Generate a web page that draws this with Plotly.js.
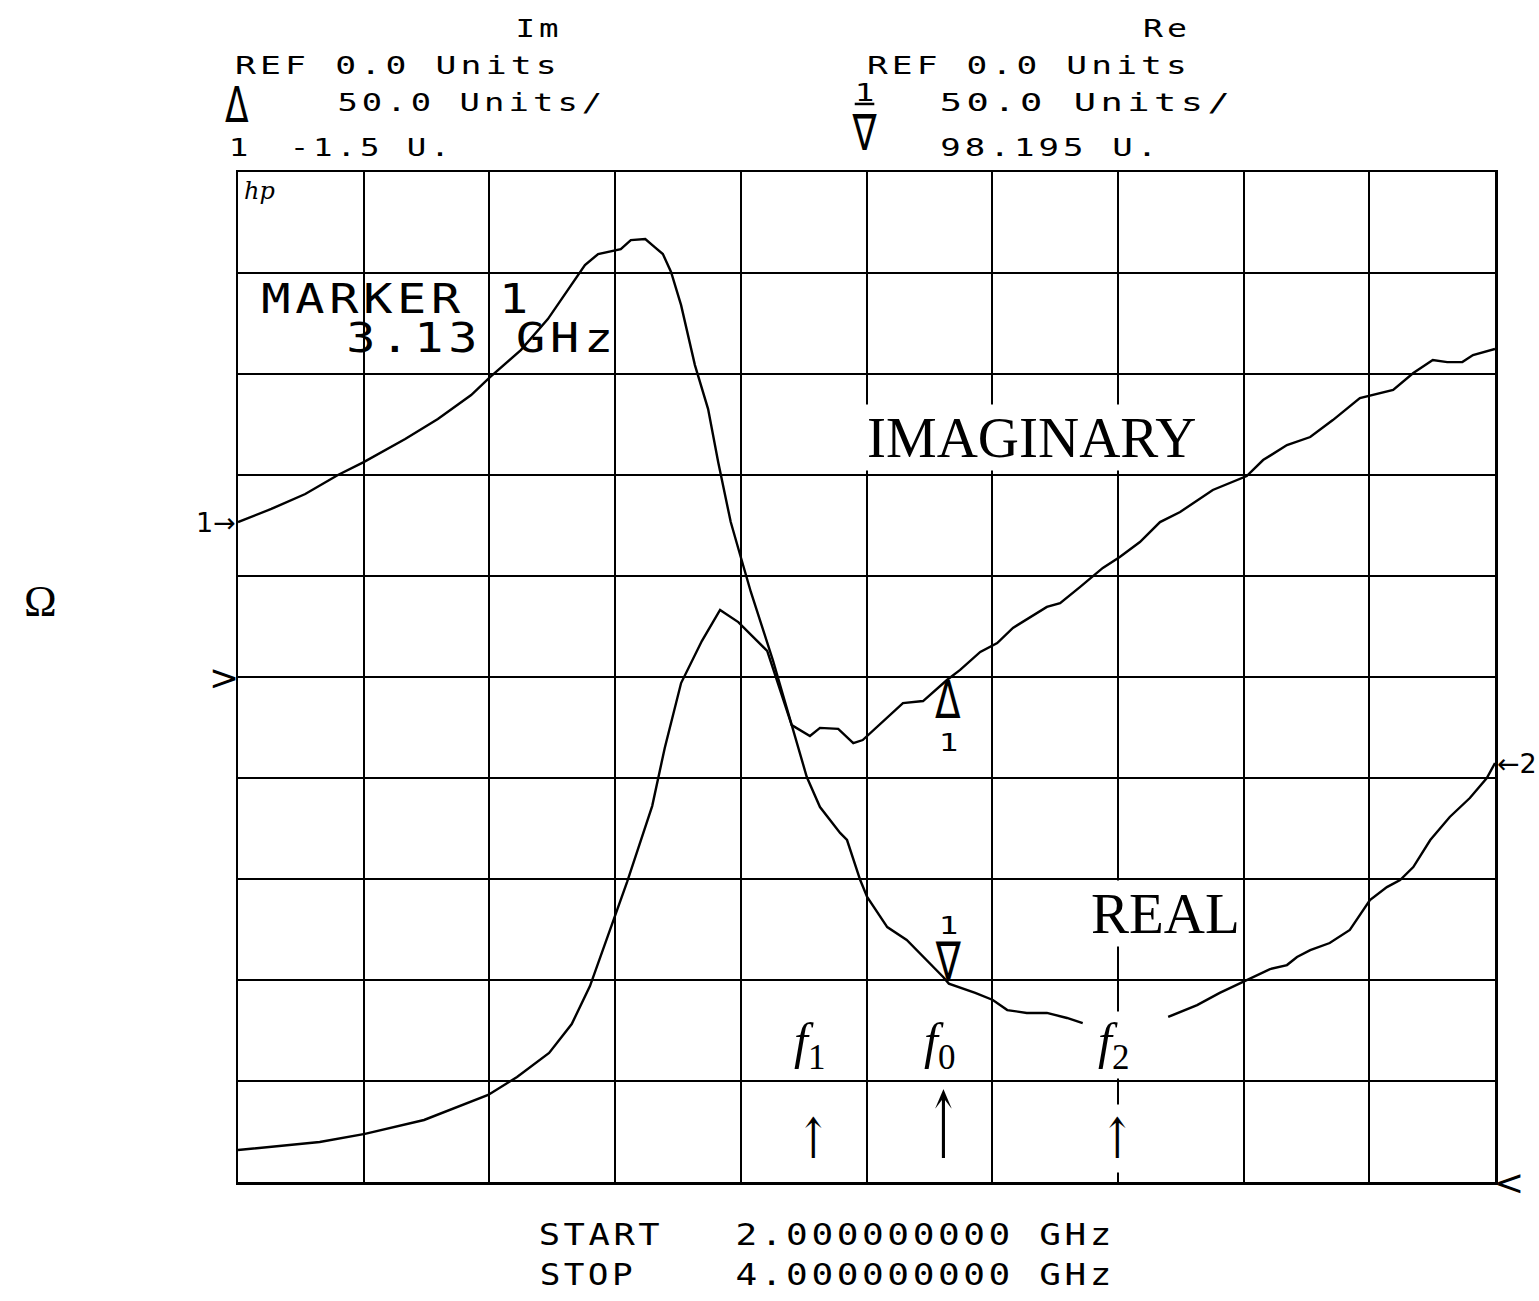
<!DOCTYPE html>
<html>
<head>
<meta charset="utf-8">
<script src="https://cdn.plot.ly/plotly-3.0.1.min.js"></script>
<style>
  html, body { margin: 0; padding: 0; background: #ffffff; }
  #chart { width: 1539px; height: 1301px; }
</style>
</head>
<body>
<div id="chart"></div>
<script>
// ---------------- DATA ----------------
// Sweep (GHz)
const startFreq = 2.0;
const stopFreq = 4.0;
// Display scale
const unitsPerDiv = 50;
// Imaginary part of impedance (Ohm) vs frequency (GHz)
const freqIm = [2.000, 2.130, 2.202, 2.296, 2.398, 2.444, 2.495, 2.531, 2.560, 2.597,
                2.619, 2.659, 2.679, 2.705, 2.738, 2.767, 2.796, 2.842, 2.881, 2.910,
                2.926, 2.955, 2.979, 2.994, 3.017, 3.058, 3.090, 3.128, 3.149, 3.181,
                3.208, 3.233, 3.287, 3.308, 3.340, 3.376, 3.403, 3.435, 3.467, 3.499,
                3.551, 3.605, 3.631, 3.669, 3.706, 3.742, 3.785, 3.806, 3.838, 3.870,
                3.901, 3.924, 3.948, 3.965, 4.000];
const imValues = [-234.2, -230.2, -226.2, -219.3, -206.9, -198.0, -186.1, -171.8, -153.0, -120.8,
                  -101.5, -63.9, -35.1, -3.0, 17.8, 33.2, 27.2, 12.9, -23.8, -29.2,
                  -25.2, -25.7, -32.7, -31.2, -24.8, -12.9, -11.9, -1.5, 3.5, 12.4,
                  16.8, 24.3, 34.7, 36.6, 44.6, 54.0, 59.4, 66.8, 76.7, 81.7,
                  92.6, 99.5, 107.4, 114.8, 118.8, 127.2, 138.1, 139.6, 142.1, 150.5,
                  156.9, 155.9, 155.9, 159.4, 162.4];
// Real part of impedance (Ohm) vs frequency (GHz); null = trace hidden under the f2 label
const freqRe = [2.000, 2.053, 2.107, 2.159, 2.200, 2.266, 2.318, 2.371, 2.401, 2.450,
                2.493, 2.530, 2.552, 2.573, 2.600, 2.609, 2.625, 2.648, 2.663, 2.676,
                2.689, 2.705, 2.727, 2.748, 2.764, 2.784, 2.799, 2.816, 2.851, 2.881,
                2.905, 2.926, 2.958, 2.969, 2.990, 3.001, 3.033, 3.064, 3.096, 3.122,
                3.131, 3.173, 3.201, 3.224, 3.255, 3.287, 3.319, 3.344, 3.410, 3.480,
                3.526, 3.562, 3.605, 3.642, 3.669, 3.685, 3.706, 3.737, 3.769, 3.801,
                3.828, 3.849, 3.870, 3.897, 3.928, 3.960, 3.987, 4.000];
const reValues = [326.7, 333.2, 340.6, 350.0, 356.4, 367.8, 377.7, 389.6, 398.5, 411.8,
                  427.2, 444.0, 453.9, 459.4, 461.3, 461.8, 466.3, 466.8, 462.8, 459.4,
                  450.5, 434.1, 404.4, 382.6, 356.4, 326.7, 310.4, 292.1, 258.4, 226.2,
                  200.5, 185.6, 172.8, 169.3, 149.5, 141.1, 126.2, 119.8, 109.9, 101.5,
                  98.2, 93.6, 90.1, 85.1, 83.7, 83.7, 81.2, 78.7, null, 81.7,
                  87.6, 93.6, 100.0, 105.4, 107.4, 111.4, 114.8, 118.3, 124.8, 139.6,
                  146.0, 149.5, 155.9, 169.3, 180.7, 190.1, 200.0, 207.4];
// Marker 1
const markerFreq = 3.13;
const markerIm = -1.5;
const markerRe = 98.195;
// Frequency labels (f with subscript) and their frequencies (GHz)
const fSubscripts = ['1', '0', '2'];
const fFreqs = [2.915, 3.122, 3.400];
// Header texts
const imHeader = ['Im', 'REF 0.0 Units', '50.0 Units/', '-1.5 U.'];
const reHeader = ['Re', 'REF 0.0 Units', '50.0 Units/', '98.195 U.'];
const sweepText = ['START', '2.000000000 GHz', 'STOP', '4.000000000 GHz'];
const markerText = ['MARKER 1', '3.13 GHz'];
const curveNames = ['IMAGINARY', 'REAL'];

// ---------------- STYLE ----------------
const HP = 'DejaVu Sans Mono';
const SERIF = 'Liberation Serif, DejaVu Serif, serif';
const annotations = [];
const fxs = [];   // per-annotation text shaping: letter spacing / target width / scales
function ann(o, fx) {
  annotations.push(Object.assign({showarrow: false, xanchor: 'center', yanchor: 'middle'}, o));
  fxs.push(fx || null);
}
const hpf = function (s) { return {family: HP, size: s, color: '#000'}; };
const P = {xref: 'paper', yref: 'paper'};

// Im header block
ann(Object.assign({x: 0.2379, y: 1.1416, text: imHeader[0], font: hpf(25)}, P), {ls: 3, w: 43});
ann(Object.assign({x: 0.1257, y: 1.1050, text: imHeader[1], font: hpf(25)}, P), {ls: 3, w: 322});
ann(Object.assign({x: 0.1846, y: 1.0693, text: imHeader[2], font: hpf(25)}, P), {ls: 3, w: 265});
ann(Object.assign({x: 0.1050, y: 1.0238, text: imHeader[3], font: hpf(25)}, P), {ls: 3, w: 160});
ann(Object.assign({x: 0.0000, y: 1.0238, text: '1', font: hpf(25)}, P), {sx: 1.3});
ann(Object.assign({x: -0.0008, y: 1.0654, text: 'Δ', font: {family: 'DejaVu Sans', size: 46, color: '#000'}}, P), {sx: 0.75, sy: 1.1});
// Re header block
ann(Object.assign({x: 0.7375, y: 1.1416, text: reHeader[0], font: hpf(25)}, P), {ls: 3, w: 44});
ann(Object.assign({x: 0.6277, y: 1.1050, text: reHeader[1], font: hpf(25)}, P), {ls: 3, w: 320});
ann(Object.assign({x: 0.6738, y: 1.0693, text: reHeader[2], font: hpf(25)}, P), {ls: 3, w: 290});
ann(Object.assign({x: 0.6444, y: 1.0238, text: reHeader[3], font: hpf(25)}, P), {ls: 3, w: 217});
ann(Object.assign({x: 0.4988, y: 1.0792, text: '<span style="text-decoration:underline">1</span>', font: hpf(25)}, P), {sx: 1.3});
ann(Object.assign({x: 0.4988, y: 1.0386, text: '∇', font: {family: 'DejaVu Sans', size: 50, color: '#000'}}, P), {sx: 0.72});
// hp logo
ann(Object.assign({x: 0.0175, y: 0.9812, text: '<i>hp</i>', font: {family: 'DejaVu Serif', size: 24, color: '#000'}}, P), null);
// Marker readout
ann(Object.assign({x: 0.1249, y: 0.8743, text: markerText[0], font: hpf(41)}, P), {ls: 4, w: 267});
ann(Object.assign({x: 0.1925, y: 0.8356, text: markerText[1], font: hpf(41)}, P), {ls: 4, w: 267});
// Curve names
ann(Object.assign({x: 0.6309, y: 0.7376, text: curveNames[0], bgcolor: '#fff', font: {family: SERIF, size: 57, color: '#000'}}, P), null);
ann(Object.assign({x: 0.7375, y: 0.2663, text: curveNames[1], bgcolor: '#fff', font: {family: SERIF, size: 57, color: '#000'}}, P), null);
// f labels and arrows
for (let i = 0; i < fSubscripts.length; i++) {
  ann({xref: 'x', yref: 'paper', x: fFreqs[i], y: 0.1356, xshift: -4,
       text: '<i>f</i><sub>' + fSubscripts[i] + '</sub>',
       bgcolor: '#fff', font: {family: SERIF, size: 50, color: '#000'}}, null);
  ann({xref: 'x', yref: 'paper', x: fFreqs[i], y: 0.0426, text: '↑', bgcolor: '#fff',
       font: {family: 'DejaVu Serif', size: 56, color: '#000'}},
      {sx: 0.7, sy: i === 1 ? 1.65 : 1.0});
}
// Marker 1 symbols on the traces
ann({xref: 'x', yref: 'y', x: markerFreq, y: markerIm, yanchor: 'top', yshift: 12, text: 'Δ',
     font: {family: 'DejaVu Sans', size: 52, color: '#000'}}, {sx: 0.72});
ann({xref: 'x', yref: 'y', x: markerFreq, y: markerIm, yanchor: 'top', yshift: -46, text: '1', font: hpf(25)}, {sx: 1.3});
ann({xref: 'x', yref: 'y2', x: markerFreq, y: markerRe, yanchor: 'bottom', yshift: -9, text: '∇',
     font: {family: 'DejaVu Sans', size: 52, color: '#000'}}, {sx: 0.72});
ann({xref: 'x', yref: 'y2', x: markerFreq, y: markerRe, yanchor: 'bottom', yshift: 42, text: '1', font: hpf(25)}, {sx: 1.3});
// Trace start/end tags and reference position marks
ann({xref: 'paper', yref: 'y2', x: 0, xanchor: 'right', y: reValues[0], text: '1→', font: {family: 'DejaVu Sans', size: 27, color: '#000'}}, null);
ann({xref: 'paper', yref: 'y2', x: 1, xanchor: 'left', y: reValues[reValues.length - 1], text: '←2', font: {family: 'DejaVu Sans', size: 27, color: '#000'}}, null);
ann({xref: 'paper', yref: 'y', x: 0, xanchor: 'right', y: 0, xshift: 3, text: '>', font: {family: 'DejaVu Sans', size: 36, color: '#000'}}, null);
ann({xref: 'paper', yref: 'y2', x: 1, xanchor: 'left', y: 0, xshift: -3, text: '<', font: {family: 'DejaVu Sans', size: 36, color: '#000'}}, null);
// Ohm symbol
ann(Object.assign({x: -0.1575, y: 0.5743, text: 'Ω', font: {family: SERIF, size: 44, color: '#000'}}, P), null);
// Sweep
ann(Object.assign({x: 0.2872, y: -0.0515, text: sweepText[0], font: hpf(30)}, P), {ls: 3, w: 121});
ann(Object.assign({x: 0.5457, y: -0.0515, text: sweepText[1], font: hpf(30)}, P), {ls: 3, w: 376});
ann(Object.assign({x: 0.2768, y: -0.0911, text: sweepText[2], font: hpf(30)}, P), {ls: 3, w: 93});
ann(Object.assign({x: 0.5457, y: -0.0911, text: sweepText[3], font: hpf(30)}, P), {ls: 3, w: 376});

const data = [
  {x: freqIm, y: imValues, type: 'scatter', mode: 'lines', name: 'Im', yaxis: 'y',
   line: {color: '#000', width: 2.4}, hoverinfo: 'skip'},
  {x: freqRe, y: reValues, type: 'scatter', mode: 'lines', name: 'Re', yaxis: 'y2',
   connectgaps: false, line: {color: '#000', width: 2.4}, hoverinfo: 'skip'}
];

const layout = {
  width: 1539, height: 1301,
  margin: {l: 238, r: 44, t: 172, b: 119, pad: 0},
  paper_bgcolor: '#fff', plot_bgcolor: '#fff',
  showlegend: false,
  xaxis: {range: [startFreq, stopFreq], tick0: startFreq, dtick: (stopFreq - startFreq) / 10,
          showgrid: true, gridcolor: '#000', gridwidth: 2, zeroline: false,
          showline: true, linecolor: '#000', linewidth: 2.5, mirror: true,
          showticklabels: false, ticks: '', fixedrange: true},
  yaxis: {range: [-5 * unitsPerDiv, 5 * unitsPerDiv], tick0: 0, dtick: unitsPerDiv,
          showgrid: true, gridcolor: '#000', gridwidth: 2, zeroline: false,
          showline: true, linecolor: '#000', linewidth: 2.5, mirror: true,
          showticklabels: false, ticks: '', fixedrange: true},
  yaxis2: {range: [0, 10 * unitsPerDiv], overlaying: 'y', side: 'right',
           showgrid: false, zeroline: false, showticklabels: false, ticks: '', showline: false, fixedrange: true},
  annotations: annotations
};

Plotly.newPlot('chart', data, layout, {staticPlot: true, displayModeBar: false}).then(function (gd) {
  gd.querySelectorAll('g.annotation').forEach(function (g) {
    const i = +g.getAttribute('data-index');
    const fx = fxs[i];
    if (!fx) return;
    const t = g.querySelector('text.annotation-text');
    if (!t) return;
    const bb0 = t.getBBox();
    const c0 = bb0.x + bb0.width / 2;
    const ls = fx.ls || 0;
    if (ls) t.style.letterSpacing = ls + 'px';
    const bb1 = t.getBBox();
    const vis = Math.max(1, bb1.width - ls);
    const c1 = bb1.x + vis / 2;
    const sx = fx.w ? fx.w / vis : (fx.sx || 1);
    const sy = fx.sy || 1;
    let by = parseFloat(t.getAttribute('y'));
    if (isNaN(by)) by = bb1.y + bb1.height;
    t.setAttribute('transform',
      'translate(' + c0 + ',' + by + ') scale(' + sx + ',' + sy + ') translate(' + (-c1) + ',' + (-by) + ')');
  });
});
</script>
</body>
</html>
